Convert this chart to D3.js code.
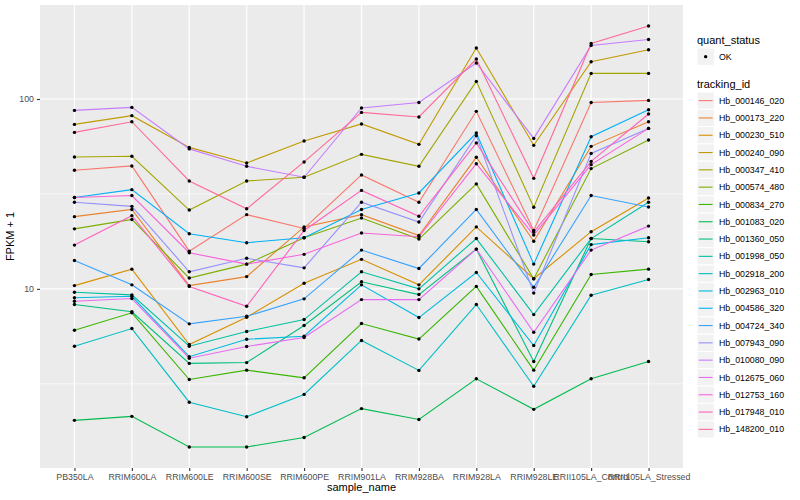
<!DOCTYPE html>
<html>
<head>
<meta charset="utf-8">
<script src="https://cdn.jsdelivr.net/npm/d3@7"></script>
<style>
  body { margin: 0; background: #fff; }
  text { font-family: "Liberation Sans", Arial, sans-serif; }
</style>
</head>
<body>
<svg id="chart" width="800" height="500"></svg>
<script>
// x categories
const samples = ["PB350LA", "RRIM600LA", "RRIM600LE", "RRIM600SE", "RRIM600PE", "RRIM901LA",
  "RRIM928BA", "RRIM928LA", "RRIM928LE", "RRII105LA_Control", "RRII105LA_Stressed"];

const trackingIds = ["Hb_000146_020", "Hb_000173_220", "Hb_000230_510", "Hb_000240_090",
  "Hb_000347_410", "Hb_000574_480", "Hb_000834_270", "Hb_001083_020", "Hb_001360_050",
  "Hb_001998_050", "Hb_002918_200", "Hb_002963_010", "Hb_004586_320", "Hb_004724_340",
  "Hb_007943_090", "Hb_010080_090", "Hb_012675_060", "Hb_012753_160", "Hb_017948_010",
  "Hb_148200_010"];

// FPKM per gene, one value per sample
const hb_000146_020 = [41.1, 43.4, 14.8, 23.6, 19.8, 38.8, 27.6, 85.1, 19.3, 94.9, 97.3];
const hb_000173_220 = [23.0, 25.2, 9.4, 10.6, 20.2, 23.6, 18.1, 48.3, 16.8, 55.3, 74.9];
const hb_000230_510 = [9.4, 11.7, 4.09, 6.09, 9.7, 13.3, 9.5, 20.2, 10.3, 19.0, 29.1];
const hb_000240_090 = [72.5, 80.7, 54.6, 45.0, 59.1, 72.9, 56.7, 184.5, 56.0, 156.1, 180.8];
const hb_000347_410 = [48.5, 48.9, 25.0, 36.0, 37.7, 50.1, 43.2, 122.8, 25.9, 135.4, 135.4];
const hb_000574_480 = [19.7, 22.2, 10.4, 12.5, 17.6, 22.6, 17.3, 34.7, 10.3, 42.0, 59.8];
const hb_000834_270 = [5.05, 6.48, 2.33, 2.73, 2.40, 5.57, 4.44, 9.3, 2.73, 10.9, 11.7];
const hb_001083_020 = [1.03, 1.13, 0.47, 0.47, 0.65, 1.34, 1.05, 2.36, 1.32, 2.36, 3.14];
const hb_001360_050 = [7.27, 6.57, 3.05, 3.09, 5.41, 9.9, 8.33, 15.2, 3.14, 17.4, 16.7];
const hb_001998_050 = [8.6, 8.3, 3.99, 4.96, 5.89, 11.3, 9.0, 17.4, 6.32, 17.4, 27.6];
const hb_002918_200 = [3.99, 5.18, 1.53, 1.12, 1.78, 4.35, 2.72, 7.27, 2.07, 8.26, 10.2];
const hb_002963_010 = [7.97, 8.14, 3.39, 4.43, 4.63, 9.5, 6.06, 11.2, 4.03, 16.1, 17.6];
const hb_004586_320 = [29.3, 32.3, 18.5, 16.5, 17.6, 25.2, 31.0, 65.2, 12.5, 62.3, 86.8];
const hb_004724_340 = [13.1, 9.5, 5.54, 6.17, 7.86, 15.0, 11.8, 25.2, 9.2, 30.0, 26.0];
const hb_007943_090 = [27.6, 26.2, 11.3, 13.5, 11.9, 27.6, 21.5, 63.1, 8.5, 50.7, 69.0];
const hb_010080_090 = [86.1, 89.3, 53.6, 43.2, 37.7, 88.7, 94.9, 153.7, 61.0, 190.5, 204.9];
const hb_012675_060 = [7.61, 7.89, 3.31, 3.97, 4.54, 7.78, 7.78, 15.2, 4.91, 15.0, 20.4];
const hb_012753_160 = [29.3, 30.0, 14.5, 12.5, 14.2, 18.7, 17.8, 44.6, 18.2, 44.1, 69.0];
const hb_017948_010 = [16.0, 23.3, 9.3, 7.10, 19.3, 32.0, 23.1, 57.7, 18.9, 45.9, 82.4];
const hb_148200_010 = [65.7, 74.9, 36.0, 25.4, 45.6, 84.0, 79.4, 161.4, 37.2, 195.2, 241.2];

const seriesValues = [hb_000146_020, hb_000173_220, hb_000230_510, hb_000240_090, hb_000347_410,
  hb_000574_480, hb_000834_270, hb_001083_020, hb_001360_050, hb_001998_050, hb_002918_200,
  hb_002963_010, hb_004586_320, hb_004724_340, hb_007943_090, hb_010080_090, hb_012675_060,
  hb_012753_160, hb_017948_010, hb_148200_010];

const quantStatus = ["OK"];
const yMajorTicks = [10, 100];
const yMinorTicks = [3.162, 31.62, 316.2];

// ggplot-like hue palette (polar LUV, c=100, l=65)
function hclLuv(h, c, l) {
  const Xn = 95.047, Yn = 100, Zn = 108.883;
  const un = 4 * Xn / (Xn + 15 * Yn + 3 * Zn), vn = 9 * Yn / (Xn + 15 * Yn + 3 * Zn);
  const hr = h * Math.PI / 180;
  const U = c * Math.cos(hr), V = c * Math.sin(hr);
  const Y = Yn * (l > 8 ? Math.pow((l + 16) / 116, 3) : l / 903.3);
  const u = U / (13 * l) + un, v = V / (13 * l) + vn;
  const X = 9 * Y * u / (4 * v);
  const Z = -X / 3 - 5 * Y + 3 * Y / v;
  const x = X / 100, y = Y / 100, z = Z / 100;
  const lin = [
    3.240479 * x - 1.537150 * y - 0.498535 * z,
    -0.969256 * x + 1.875992 * y + 0.041556 * z,
    0.055648 * x - 0.204043 * y + 1.057311 * z
  ];
  const g = lin.map(t => {
    const s = t > 0.0031308 ? 1.055 * Math.pow(t, 1 / 2.4) - 0.055 : 12.92 * t;
    return Math.round(Math.max(0, Math.min(1, s)) * 255);
  });
  return d3.rgb(g[0], g[1], g[2]).formatHex();
}
const n = trackingIds.length;
const palette = trackingIds.map((_, i) => hclLuv(15 + i * 360 / n, 100, 65));

const series = trackingIds.map((id, i) => ({
  id, color: palette[i],
  points: samples.map((s, j) => ({ sample: s, value: seriesValues[i][j] + 1 }))
}));

const svg = d3.select("#chart");
const panel = { left: 40, right: 683, top: 5, bottom: 468 };

const all = series.flatMap(s => s.points.map(p => p.value));
const lmin = Math.log10(d3.min(all)), lmax = Math.log10(d3.max(all));
const pad = (lmax - lmin) * 0.05;
const y = d3.scaleLog()
  .domain([Math.pow(10, lmin - pad), Math.pow(10, lmax + pad)])
  .range([panel.bottom, panel.top]);
const x = d3.scalePoint().domain(samples).range([panel.left, panel.right]).padding(0.6);

// panel background + grid
svg.append("rect")
  .attr("x", panel.left).attr("y", panel.top)
  .attr("width", panel.right - panel.left).attr("height", panel.bottom - panel.top)
  .attr("fill", "#EBEBEB");

const [d0, d1] = y.domain();
svg.append("g").selectAll("line")
  .data(yMinorTicks.filter(t => t >= d0 && t <= d1))
  .enter().append("line")
  .attr("x1", panel.left).attr("x2", panel.right)
  .attr("y1", d => y(d)).attr("y2", d => y(d))
  .attr("stroke", "#fff").attr("stroke-width", 0.6);

svg.append("g").selectAll("line")
  .data(yMajorTicks)
  .enter().append("line")
  .attr("x1", panel.left).attr("x2", panel.right)
  .attr("y1", d => y(d)).attr("y2", d => y(d))
  .attr("stroke", "#fff").attr("stroke-width", 1.2);

svg.append("g").selectAll("line")
  .data(samples)
  .enter().append("line")
  .attr("x1", d => x(d)).attr("x2", d => x(d))
  .attr("y1", panel.top).attr("y2", panel.bottom)
  .attr("stroke", "#fff").attr("stroke-width", 1.2);

// lines
const line = d3.line().x(d => x(d.sample)).y(d => y(d.value));
svg.append("g").selectAll("path")
  .data(series)
  .enter().append("path")
  .attr("d", d => line(d.points))
  .attr("fill", "none")
  .attr("stroke", d => d.color)
  .attr("stroke-width", 1.1);

// points
svg.append("g").selectAll("circle")
  .data(series.flatMap(s => s.points))
  .enter().append("circle")
  .attr("cx", d => x(d.sample)).attr("cy", d => y(d.value))
  .attr("r", 1.7).attr("fill", "#000");

// axes
const xAxis = svg.append("g")
  .attr("transform", `translate(0,${panel.bottom})`)
  .call(d3.axisBottom(x).tickSize(3).tickPadding(3));
const yAxis = svg.append("g")
  .attr("transform", `translate(${panel.left},0)`)
  .call(d3.axisLeft(y).tickValues(yMajorTicks).tickFormat(d3.format("d")).tickSize(3).tickPadding(3));
[xAxis, yAxis].forEach(a => {
  a.select(".domain").remove();
  a.selectAll(".tick line").attr("stroke", "#333333").attr("stroke-width", 1.1);
  a.selectAll(".tick text").attr("fill", "#4D4D4D")
    .style("font-size", "8.8px").style("font-family", "Liberation Sans, Arial, sans-serif");
});

svg.append("text")
  .attr("x", (panel.left + panel.right) / 2).attr("y", 491)
  .attr("text-anchor", "middle").attr("font-size", 11).attr("fill", "#000")
  .text("sample_name");
svg.append("text")
  .attr("transform", `translate(14,${(panel.top + panel.bottom) / 2}) rotate(-90)`)
  .attr("text-anchor", "middle").attr("font-size", 11).attr("fill", "#000")
  .text("FPKM + 1");

// legend
const lg = svg.append("g").attr("transform", "translate(697,0)");
lg.append("text").attr("x", 0).attr("y", 44).attr("font-size", 11).text("quant_status");
const qk = lg.selectAll("g.q").data(quantStatus).enter().append("g")
  .attr("class", "q").attr("transform", (d, i) => `translate(0,${48 + i * 17.3})`);
qk.append("rect").attr("width", 17.3).attr("height", 17.3)
  .attr("fill", "#F2F2F2").attr("stroke", "#fff");
qk.append("circle").attr("cx", 8.65).attr("cy", 8.65).attr("r", 1.7).attr("fill", "#000");
qk.append("text").attr("x", 22).attr("y", 8.65).attr("dy", "0.35em")
  .attr("font-size", 8.8).text(d => d);

lg.append("text").attr("x", 0).attr("y", 88).attr("font-size", 11).text("tracking_id");
const tk = lg.selectAll("g.t").data(series).enter().append("g")
  .attr("class", "t").attr("transform", (d, i) => `translate(0,${92 + i * 17.3})`);
tk.append("rect").attr("width", 17.3).attr("height", 17.3)
  .attr("fill", "#F2F2F2").attr("stroke", "#fff");
tk.append("line").attr("x1", 1.7).attr("x2", 15.6).attr("y1", 8.65).attr("y2", 8.65)
  .attr("stroke", d => d.color).attr("stroke-width", 1.1);
tk.append("text").attr("x", 22).attr("y", 8.65).attr("dy", "0.35em")
  .attr("font-size", 8.8).text(d => d.id);
</script>
</body>
</html>
